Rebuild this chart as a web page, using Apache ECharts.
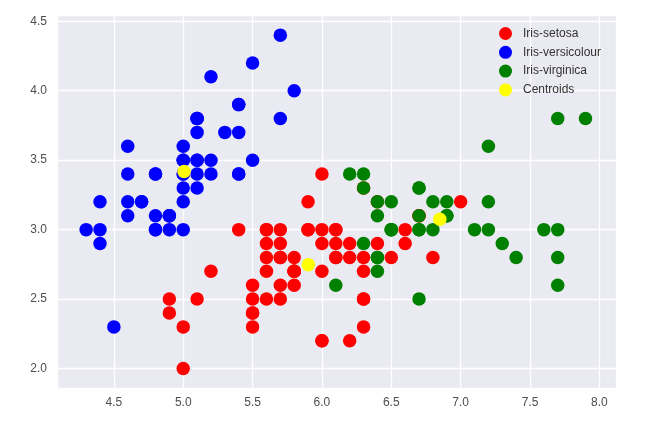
<!DOCTYPE html>
<html>
<head>
<meta charset="utf-8">
<script src="https://cdn.jsdelivr.net/npm/echarts@6/dist/echarts.min.js"></script>
<style>
  html, body { margin: 0; padding: 0; background: #fff; }
  #chart { width: 647px; height: 426px; }
</style>
</head>
<body>
<div id="chart"></div>
<script>
// cluster 0 (red) - sepal length / width
const redX = [7.0, 6.4, 5.5, 6.5, 5.7, 6.3, 4.9, 6.6, 5.2, 5.0, 5.9, 6.0, 6.1, 5.6, 6.7, 5.6,
  5.8, 6.2, 5.6, 5.9, 6.1, 6.3, 6.1, 6.4, 6.6, 6.8, 6.0, 5.7, 5.5, 5.5, 5.8, 6.0, 5.4, 6.0,
  6.7, 6.3, 5.6, 5.5, 5.5, 6.1, 5.8, 5.0, 5.6, 5.7, 5.7, 6.2, 5.1, 5.7,
  5.8, 4.9, 5.7, 5.8, 6.0, 5.6, 6.3, 6.2, 6.1, 6.3, 6.0, 5.8, 6.3, 5.9];
const redY = [3.2, 3.2, 2.3, 2.8, 2.8, 3.3, 2.4, 2.9, 2.7, 2.0, 3.0, 2.2, 2.9, 2.9, 3.1, 3.0,
  2.7, 2.2, 2.5, 3.2, 2.8, 2.5, 2.8, 2.9, 3.0, 2.8, 2.9, 2.6, 2.4, 2.4, 2.7, 2.7, 3.0, 3.4,
  3.1, 2.3, 3.0, 2.5, 2.6, 3.0, 2.6, 2.3, 2.7, 3.0, 2.9, 2.9, 2.5, 2.8,
  2.7, 2.5, 2.5, 2.8, 2.2, 2.8, 2.7, 2.8, 3.0, 2.8, 3.0, 2.7, 2.5, 3.0];

// cluster 1 (blue)
const blueX = [5.1, 4.9, 4.7, 4.6, 5.0, 5.4, 4.6, 5.0, 4.4, 4.9, 5.4, 4.8, 4.8, 4.3, 5.8, 5.7,
  5.4, 5.1, 5.7, 5.1, 5.4, 5.1, 4.6, 5.1, 4.8, 5.0, 5.0, 5.2, 5.2, 4.7, 4.8, 5.4, 5.2, 5.5,
  4.9, 5.0, 5.5, 4.9, 4.4, 5.1, 5.0, 4.5, 4.4, 5.0, 5.1, 4.8, 5.1, 4.6, 5.3, 5.0];
const blueY = [3.5, 3.0, 3.2, 3.1, 3.6, 3.9, 3.4, 3.4, 2.9, 3.1, 3.7, 3.4, 3.0, 3.0, 4.0, 4.4,
  3.9, 3.5, 3.8, 3.8, 3.4, 3.7, 3.6, 3.3, 3.4, 3.0, 3.4, 3.5, 3.4, 3.2, 3.1, 3.4, 4.1, 4.2,
  3.1, 3.2, 3.5, 3.1, 3.0, 3.4, 3.5, 2.3, 3.2, 3.5, 3.8, 3.0, 3.8, 3.2, 3.7, 3.3];

// cluster 2 (green)
const greenX = [6.9, 6.7, 6.3, 7.1, 6.3, 6.5, 7.6, 7.3, 6.7, 7.2, 6.5, 6.4, 6.8, 6.4, 6.5, 7.7,
  7.7, 6.9, 7.7, 6.7, 7.2, 6.4, 7.2, 7.4, 7.9, 6.4, 6.1, 7.7, 6.3, 6.4, 6.9, 6.7, 6.9, 6.8,
  6.7, 6.7, 6.5, 6.2];
const greenY = [3.1, 3.0, 3.3, 3.0, 2.9, 3.0, 3.0, 2.9, 2.5, 3.6, 3.2, 2.7, 3.0, 3.2, 3.0, 3.8,
  2.6, 3.2, 2.8, 3.3, 3.2, 2.8, 3.0, 2.8, 3.8, 2.8, 2.6, 3.0, 3.4, 3.1, 3.1, 3.1, 3.1, 3.2,
  3.3, 3.0, 3.0, 3.4];

// centroids (yellow)
const centX = [5.006, 5.902, 6.850];
const centY = [3.418, 2.748, 3.074];

const legendNames = ['Iris-setosa', 'Iris-versicolour', 'Iris-virginica', 'Centroids'];
const colors = ['#ff0000', '#0000ff', '#008000', '#ffff00'];

function pairs(xs, ys) {
  return xs.map((x, i) => [x, ys[i]]);
}

let myChart = echarts.init(document.getElementById('chart'));

const tickLabel = {
  color: '#4d4d4d',
  fontSize: 12,
  fontFamily: 'Liberation Sans',
  showMinLabel: false,
  showMaxLabel: false,
  formatter: v => v.toFixed(1)
};

// no fixed interval: min/max are not multiples of 0.5, splitNumber gives 0.5 steps
let option = {
  animation: false,
  backgroundColor: '#fff',
  grid: {
    left: 57, right: 31, top: 15, bottom: 38,
    show: true,
    backgroundColor: '#eaeaf2',
    borderWidth: 0
  },
  xAxis: {
    type: 'value',
    min: 4.09, max: 8.12,
    splitNumber: 8,
    axisLine: { show: false },
    axisTick: { show: false },
    axisLabel: Object.assign({ margin: 9 }, tickLabel),
    splitLine: { show: true, lineStyle: { color: '#fff', width: 1.3 } }
  },
  yAxis: {
    type: 'value',
    min: 1.86, max: 4.545,
    splitNumber: 5,
    axisLine: { show: false },
    axisTick: { show: false },
    axisLabel: Object.assign({ margin: 10 }, tickLabel),
    splitLine: { show: true, lineStyle: { color: '#fff', width: 1.3 } }
  },
  legend: {
    orient: 'vertical',
    left: 494,
    top: 22,
    itemWidth: 13,
    itemHeight: 13,
    itemGap: 5.8,
    icon: 'circle',
    textStyle: { color: '#333', fontSize: 12, fontFamily: 'Liberation Sans', padding: [0, 0, 0, 6] },
    data: legendNames
  },
  series: [
    { name: legendNames[0], data: pairs(redX, redY) },
    { name: legendNames[1], data: pairs(blueX, blueY) },
    { name: legendNames[2], data: pairs(greenX, greenY) },
    { name: legendNames[3], data: pairs(centX, centY) }
  ].map((s, i) => Object.assign(s, {
    type: 'scatter',
    symbol: 'circle',
    symbolSize: 13.5,
    itemStyle: { color: colors[i], opacity: 1 },
    emphasis: { disabled: true }
  }))
};
myChart.setOption(option);
</script>
</body>
</html>
